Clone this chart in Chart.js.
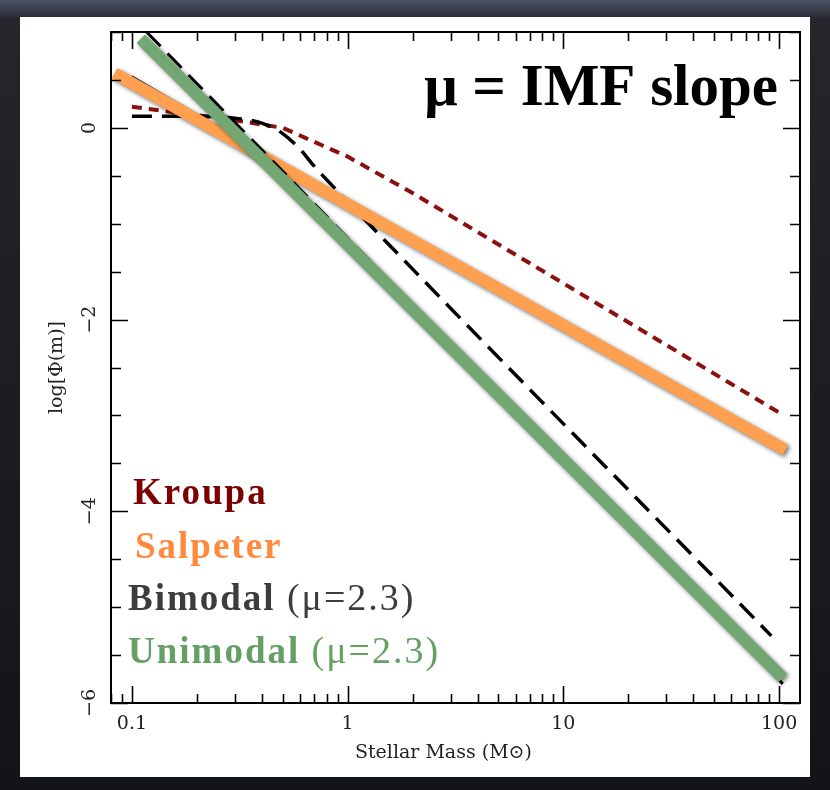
<!DOCTYPE html>
<html>
<head>
<meta charset="utf-8">
<script src="https://cdn.jsdelivr.net/npm/chart.js@4"></script>
<style>
  html, body { margin: 0; padding: 0; background: #15161a; }
  #wrap { width: 830px; height: 790px; }
</style>
</head>
<body>
<div id="wrap"><canvas id="imfChart" width="830" height="790"></canvas></div>
<script>
// values: stellar mass (Msun) vs log Phi(m)
const unimodalMass = [0.11, 104];
const unimodalLogPhi = [0.93, -5.74];
const unimodalRefMass = [0.117, 104];
const unimodalRefLogPhi = [1.0, -5.8];
const salpeterMass = [0.083, 107];
const salpeterLogPhi = [0.57, -3.36];
const salpeterRefMass = [0.1, 0.5];
const salpeterRefLogPhi = [0.54, -0.38];
const bimodalMass = [0.1, 0.2, 0.3, 0.4, 0.5, 0.6, 0.7, 1, 92];
const bimodalLogPhi = [0.12, 0.12, 0.1, 0.05, -0.06, -0.22, -0.4, -0.77, -5.3];
const kroupaMass = [0.1, 0.3, 0.5, 1, 2, 100];
const kroupaLogPhi = [0.22, 0.08, 0.0, -0.3, -0.68, -2.97];

// axis ticks
const xDecades = [0.01, 0.1, 1, 10, 100];
const xMantissas = [1, 2, 3, 4, 5, 6, 7, 8, 9];
const xLabelValues = [0.1, 1, 10, 100];
const yLabelValues = [-6, -4, -2, 0];

// texts
const slopeNote = 'μ = IMF slope';
const legendNames = ['Kroupa', 'Salpeter', 'Bimodal', 'Unimodal'];
const legendNotes = ['', '', '(μ=2.3)', '(μ=2.3)'];
const legendColors = ['#7d0000', '#ff8a3d', '#3c3c3c', '#64a064'];

const X_MIN = 0.08, X_MAX = 125;
const xTicks = [];
xDecades.forEach(d => {
    xMantissas.forEach(m => {
        const v = Number((m * d).toPrecision(3));
        if (v >= X_MIN && v <= X_MAX) xTicks.push(v);
    });
});

const toPoints = (ms, ps) => ms.map((m, i) => ({ x: m, y: ps[i] }));

// slide background + white panel
const backdrop = {
    id: 'backdrop',
    beforeDraw(chart) {
        const ctx = chart.ctx;
        ctx.save();
        const g = ctx.createLinearGradient(0, 0, 0, 790);
        g.addColorStop(0, '#4c5467');
        g.addColorStop(0.025, '#24262c');
        g.addColorStop(1, '#131417');
        ctx.fillStyle = g;
        ctx.fillRect(0, 0, 830, 790);
        ctx.fillStyle = '#ffffff';
        ctx.fillRect(20, 17, 790, 760);
        ctx.restore();
    }
};

// soft drop shadow under the thick overlay lines
const shadow = {
    id: 'shadow',
    beforeDatasetDraw(chart, args) {
        if (!chart.data.datasets[args.index].shadow) return;
        const ctx = chart.ctx;
        ctx.save();
        ctx.shadowColor = 'rgba(0,0,0,0.55)';
        ctx.shadowBlur = 4;
        ctx.shadowOffsetX = 2;
        ctx.shadowOffsetY = 2;
    },
    afterDatasetDraw(chart, args) {
        if (chart.data.datasets[args.index].shadow) chart.ctx.restore();
    }
};

// box with inward ticks on all four sides
const frame = {
    id: 'frame',
    afterDraw(chart) {
        const { ctx, chartArea: a, scales: { x, y } } = chart;
        ctx.save();
        ctx.strokeStyle = '#000';
        ctx.lineWidth = 1.6;
        ctx.beginPath();
        x.ticks.forEach(t => {
            const px = Math.round(x.getPixelForValue(t.value)) + 0.5;
            const len = xLabelValues.includes(t.value) ? 17 : 9;
            ctx.moveTo(px, a.bottom); ctx.lineTo(px, a.bottom - len);
            ctx.moveTo(px, a.top); ctx.lineTo(px, a.top + len);
        });
        y.ticks.forEach(t => {
            const py = Math.round(y.getPixelForValue(t.value)) + 0.5;
            const len = yLabelValues.includes(t.value) ? 17 : 10;
            ctx.moveTo(a.left, py); ctx.lineTo(a.left + len, py);
            ctx.moveTo(a.right, py); ctx.lineTo(a.right - len, py);
        });
        ctx.stroke();
        ctx.lineWidth = 2;
        ctx.strokeRect(a.left, a.top, a.right - a.left, a.bottom - a.top);
        ctx.restore();
    }
};

// title note and coloured legend words
const annotations = {
    id: 'annotations',
    afterDraw(chart) {
        const ctx = chart.ctx;
        ctx.save();
        ctx.fillStyle = '#000';
        ctx.textAlign = 'right';
        ctx.textBaseline = 'alphabetic';
        ctx.font = 'bold 59px "Liberation Serif"';
        ctx.fillText(slopeNote, 778, 105);

        ctx.textAlign = 'left';
        ctx.letterSpacing = '2px';
        const starts = [[133, 504], [135, 558], [128, 610], [128, 663]];
        legendNames.forEach((name, i) => {
            const [lx, ly] = starts[i];
            ctx.fillStyle = legendColors[i];
            ctx.font = 'bold 37px "Liberation Serif"';
            ctx.fillText(name, lx, ly);
            if (legendNotes[i]) {
                const w = ctx.measureText(name + ' ').width;
                ctx.font = '38px "Liberation Serif"';
                ctx.fillText(legendNotes[i], lx + w, ly);
            }
        });
        ctx.restore();
    }
};

const ctx = document.getElementById('imfChart').getContext('2d');

new Chart(ctx, {
    type: 'line',
    data: {
        datasets: [
            {
                label: 'Unimodal (μ=2.3)',
                data: toPoints(unimodalMass, unimodalLogPhi),
                borderColor: '#72a672',
                borderWidth: 12,
                shadow: true
            },
            {
                label: 'Unimodal (original)',
                data: toPoints(unimodalRefMass, unimodalRefLogPhi),
                borderColor: '#000',
                borderWidth: 3,
                borderDash: [20, 10]
            },
            {
                label: 'Salpeter',
                data: toPoints(salpeterMass, salpeterLogPhi),
                borderColor: '#ffa050',
                borderWidth: 12,
                shadow: true
            },
            {
                label: 'Salpeter (original)',
                data: toPoints(salpeterRefMass, salpeterRefLogPhi),
                borderColor: '#000',
                borderWidth: 1.5
            },
            {
                label: 'Bimodal (μ=2.3)',
                data: toPoints(bimodalMass, bimodalLogPhi),
                borderColor: '#000',
                borderWidth: 3.5,
                borderDash: [20, 10],
                cubicInterpolationMode: 'monotone'
            },
            {
                label: 'Kroupa',
                data: toPoints(kroupaMass, kroupaLogPhi),
                borderColor: '#8b1010',
                borderWidth: 4,
                borderDash: [10, 7]
            }
        ]
    },
    options: {
        responsive: false,
        animation: false,
        layout: {
            padding: { top: 32, right: 30, left: 0, bottom: 0 }
        },
        elements: {
            point: { radius: 0 },
            line: { fill: false }
        },
        plugins: {
            legend: { display: false },
            tooltip: { enabled: false }
        },
        scales: {
            x: {
                type: 'logarithmic',
                min: X_MIN,
                max: X_MAX,
                bounds: 'data',
                grid: { display: false, drawTicks: false },
                border: { display: false },
                afterBuildTicks: (scale) => {
                    scale.ticks = xTicks.map(v => ({ value: v }));
                },
                afterFit: (scale) => { scale.height = 87; },
                ticks: {
                    autoSkip: false,
                    maxRotation: 0,
                    padding: 10,
                    color: '#222',
                    font: { family: 'DejaVu Serif', size: 19 },
                    callback: (value) => xLabelValues.includes(value) ? String(value) : ''
                },
                title: {
                    display: true,
                    text: 'Stellar Mass (M⊙)    ',
                    color: '#222',
                    font: { family: 'DejaVu Serif', size: 19 },
                    padding: { top: 0, bottom: 26 }
                }
            },
            y: {
                min: -6,
                max: 1,
                grid: { display: false, drawTicks: false },
                border: { display: false },
                afterFit: (scale) => { scale.width = 111; },
                ticks: {
                    stepSize: 0.5,
                    autoSkip: false,
                    minRotation: 90,
                    maxRotation: 90,
                    crossAlign: 'center',
                    padding: 7,
                    color: '#222',
                    font: { family: 'DejaVu Serif', size: 19 },
                    callback: (value) => {
                        if (!yLabelValues.includes(value)) return '';
                        return value < 0 ? '\u2212' + (-value) : String(value);
                    }
                },
                title: {
                    display: true,
                    text: 'log[Φ(m)]',
                    color: '#222',
                    font: { family: 'DejaVu Serif', size: 19 },
                    padding: { top: 46, bottom: 0 }
                }
            }
        }
    },
    plugins: [backdrop, shadow, frame, annotations]
});
</script>
</body>
</html>
